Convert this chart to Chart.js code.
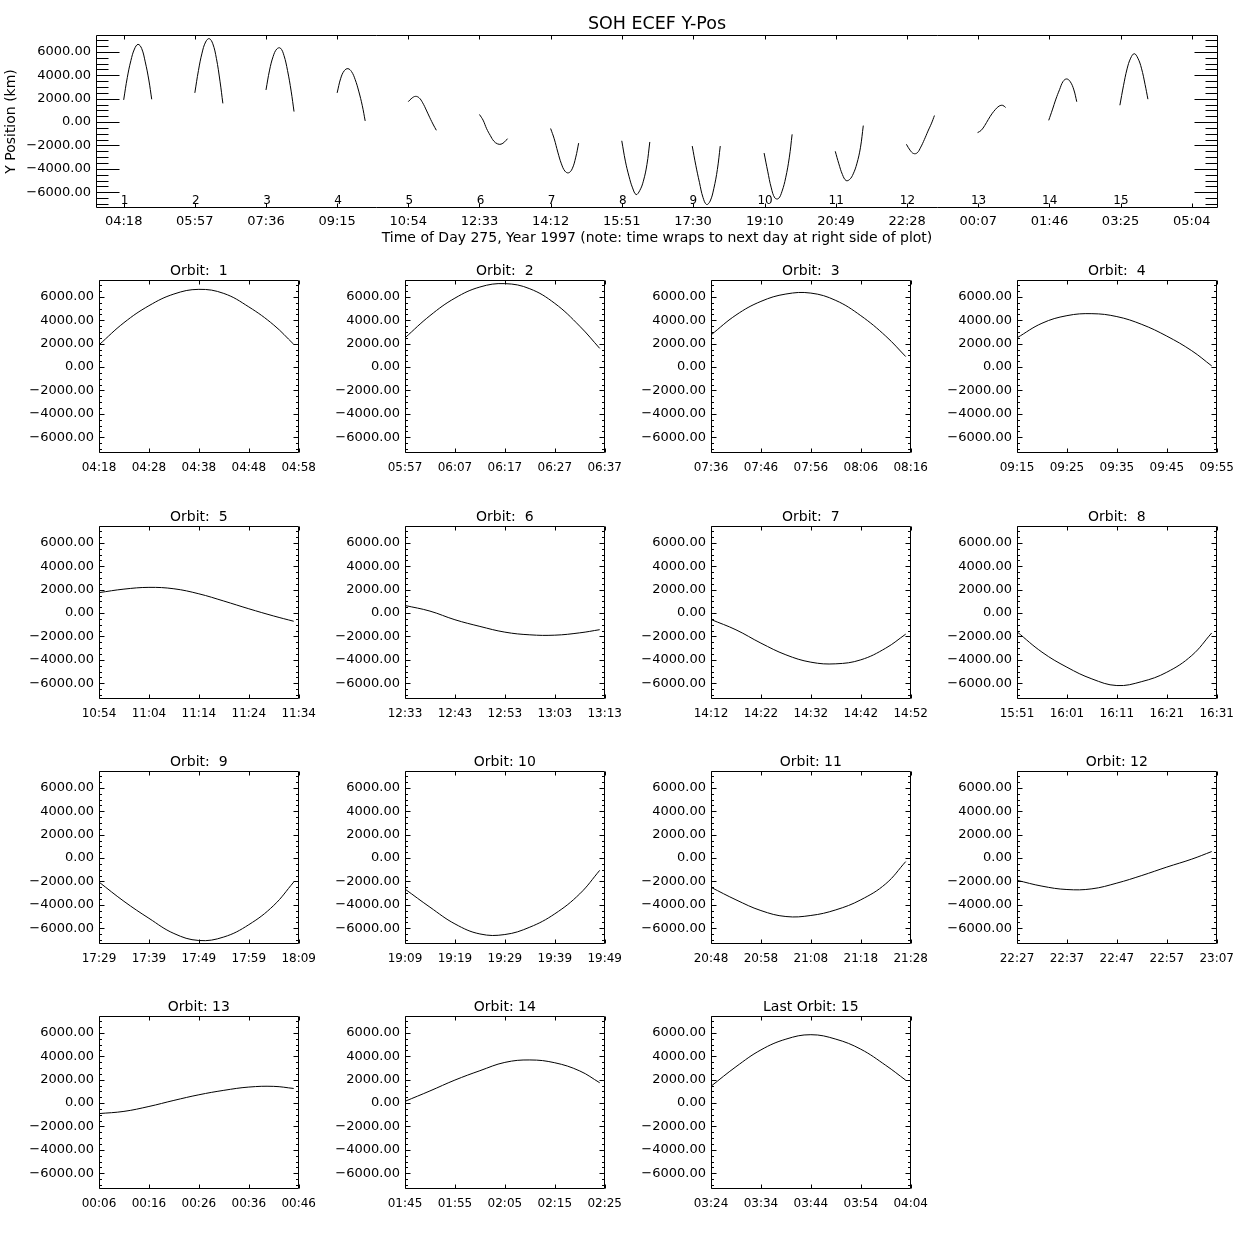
<!DOCTYPE html>
<html>
<head>
<meta charset="utf-8">
<title>SOH ECEF Y-Pos</title>
<script src="https://cdn.jsdelivr.net/npm/chart.js@4.4.1/dist/chart.umd.min.js"></script>
<style>
  body { margin: 0; background: #fff; }
  #page { position: relative; width: 1250px; height: 1250px; background: #fff; overflow: hidden; }
  #page canvas { position: absolute; }
</style>
</head>
<body>
<div id="page"></div>
<script>
// start of each orbit (left edge of the small plots)
const orbitStarts = ['04:18', '05:57', '07:36', '09:15', '10:54', '12:33', '14:12', '15:51',
                     '17:29', '19:09', '20:48', '22:27', '00:06', '01:45', '03:24'];
// tick labels of the overview plot
const overviewTicks = ['04:18', '05:57', '07:36', '09:15', '10:54', '12:33', '14:12', '15:51',
                       '17:30', '19:10', '20:49', '22:28', '00:07', '01:46', '03:25', '05:04'];
const sampleMinutes = [0, 5, 10, 15, 20, 25, 30, 35, 39];

// Y position (km)
const orbit1  = [1900, 3800, 5250, 6250, 6650, 6300, 5150, 3600, 1950];
const orbit2  = [2500, 4400, 5900, 6850, 7140, 6700, 5450, 3500, 1600];
const orbit3  = [2750, 4450, 5620, 6250, 6330, 5700, 4400, 2650, 900];
const orbit4  = [2500, 3750, 4400, 4570, 4320, 3650, 2650, 1400, 100];
const orbit5  = [1750, 2050, 2200, 2080, 1650, 1030, 370, -250, -700];
const orbit6  = [650, 170, -570, -1140, -1630, -1860, -1890, -1690, -1420];
const orbit7  = [-550, -1430, -2570, -3570, -4200, -4340, -4000, -3000, -1800];
const orbit8  = [-1600, -3340, -4630, -5630, -6200, -5860, -5060, -3630, -1700];
const orbit9  = [-2050, -3700, -5150, -6450, -7050, -6750, -5700, -4050, -2050];
const orbit10 = [-2650, -4200, -5630, -6490, -6540, -5910, -4770, -3060, -1050];
const orbit11 = [-2500, -3570, -4490, -5000, -4910, -4430, -3570, -2200, -300];
const orbit12 = [-1900, -2400, -2690, -2630, -2140, -1490, -770, -90, 560];
const orbit13 = [-900, -710, -290, 230, 710, 1090, 1370, 1430, 1250];
const orbit14 = [150, 1040, 1970, 2770, 3480, 3690, 3450, 2750, 1740];
const orbit15 = [1440, 3110, 4550, 5470, 5850, 5470, 4610, 3230, 1960];

const orbitValues = [orbit1, orbit2, orbit3, orbit4, orbit5, orbit6, orbit7, orbit8,
                     orbit9, orbit10, orbit11, orbit12, orbit13, orbit14, orbit15];

const yTickValues = [-6000, -4000, -2000, 0, 2000, 4000, 6000];
const panelTickSteps = [0, 10, 20, 30, 40];
const yMin = -7350, yMax = 7450;

Chart.defaults.font.family = '"DejaVu Sans", sans-serif';
Chart.defaults.color = '#000';

function toMinutes(labels) {
    let prev = -Infinity, shift = 0;
    return labels.map(s => {
        const [h, m] = s.split(':').map(Number);
        let v = h * 60 + m + shift;
        if (v < prev) { shift += 1440; v += 1440; }
        prev = v;
        return v;
    });
}

function hhmm(v) {
    const t = ((Math.round(v) % 1440) + 1440) % 1440;
    return String(Math.floor(t / 60)).padStart(2, '0') + ':' + String(t % 60).padStart(2, '0');
}

const startMinutes = toMinutes(orbitStarts);
const overviewTickMinutes = toMinutes(overviewTicks);

// IDL style box: frame plus inward ticks on all four sides
const idlFrame = {
    id: 'idlFrame',
    afterDatasetsDraw(chart, args, opts) {
        const { ctx, chartArea: a, scales } = chart;
        const L = Math.round(a.left) + 0.5, R = Math.round(a.right) - 0.5;
        const T = Math.round(a.top) + 0.5, B = Math.round(a.bottom) - 0.5;
        ctx.save();
        ctx.strokeStyle = '#000';
        ctx.lineWidth = 1;
        ctx.beginPath();
        ctx.rect(L, T, R - L, B - T);
        for (let v = -7000; v <= 7000; v += 500) {
            const py = Math.round(scales.y.getPixelForValue(v)) + 0.5;
            const len = v % 2000 === 0 ? opts.yMajor : opts.yMinor;
            ctx.moveTo(L, py); ctx.lineTo(L + len, py);
            ctx.moveTo(R, py); ctx.lineTo(R - len, py);
        }
        scales.x.ticks.forEach(t => {
            const px = Math.round(scales.x.getPixelForValue(t.value)) + 0.5;
            ctx.moveTo(px, B); ctx.lineTo(px, B - opts.xLen);
            ctx.moveTo(px, T); ctx.lineTo(px, T + opts.xLen);
        });
        ctx.stroke();

        if (opts.orbitLabels) {
            ctx.fillStyle = '#000';
            ctx.font = '12px "DejaVu Sans", sans-serif';
            ctx.textAlign = 'center';
            ctx.textBaseline = 'middle';
            opts.orbitLabels.forEach((m, i) => {
                ctx.fillText(String(i + 1), scales.x.getPixelForValue(m) + 1, a.bottom - 7);
            });
        }
        ctx.restore();
    }
};

const page = document.getElementById('page');
function addCanvas(left, top, w, h) {
    const c = document.createElement('canvas');
    c.width = w; c.height = h;
    c.style.left = left + 'px'; c.style.top = top + 'px';
    c.style.width = w + 'px'; c.style.height = h + 'px';
    page.appendChild(c);
    return c;
}

function yAxis(width, showTitle) {
    return {
        type: 'linear', min: yMin, max: yMax,
        afterBuildTicks: s => { s.ticks = yTickValues.map(v => ({ value: v })); },
        afterFit: s => { s.width = width; },
        grid: { display: false, drawTicks: false },
        border: { display: false },
        ticks: {
            callback: v => (v < 0 ? '\u2212' : '') + Math.abs(v).toFixed(2),
            font: { size: 13 }, padding: 5
        },
        title: { display: showTitle, text: 'Y Position (km)', font: { size: 14 }, padding: 0 }
    };
}

function rightPad(width) {
    return {
        type: 'linear', position: 'right', min: 0, max: 1,
        grid: { display: false, drawTicks: false }, border: { display: false },
        ticks: { display: false },
        afterFit: s => { s.width = width; }
    };
}

function lineSet(i) {
    return {
        data: orbitValues[i].map((v, k) => ({ x: startMinutes[i] + sampleMinutes[k], y: v })),
        borderColor: '#000', borderWidth: 1, pointRadius: 0, tension: 0.4, fill: false
    };
}

// overview plot
new Chart(addCanvas(0, 0, 1250, 247), {
    type: 'line',
    data: { datasets: orbitValues.map((_, i) => lineSet(i)) },
    options: {
        responsive: false, animation: false, devicePixelRatio: 1,
        layout: { padding: { left: 3, top: 0, right: 0, bottom: 0 } },
        scales: {
            x: {
                type: 'linear', min: 219.5, max: 1780.5,
                afterBuildTicks: s => { s.ticks = overviewTickMinutes.map(v => ({ value: v })); },
                afterFit: s => { s.height = 39; },
                grid: { display: false, drawTicks: false },
                border: { display: false },
                ticks: { callback: (v, i) => overviewTicks[i], font: { size: 13 }, padding: 6,
                         maxRotation: 0, autoSkip: false },
                title: { display: true,
                         text: 'Time of Day 275, Year 1997 (note: time wraps to next day at right side of plot)',
                         font: { size: 14 }, padding: 0 }
            },
            y: yAxis(93, true),
            yr: rightPad(32)
        },
        plugins: {
            legend: { display: false },
            tooltip: { enabled: false },
            title: { display: true, text: 'SOH ECEF Y-Pos', fullSize: false,
                     font: { size: 17.5, weight: 'normal' }, padding: { top: 14, bottom: 0 } },
            idlFrame: { yMajor: 23, yMinor: 12, xLen: 4, orbitLabels: startMinutes }
        }
    },
    plugins: [idlFrame]
});

// one small plot per orbit
const plotLefts = [99, 405, 711, 1017];
const plotTops = [280, 526, 771, 1016];
orbitValues.forEach((vals, i) => {
    const col = i % 4, row = Math.floor(i / 4);
    const start = startMinutes[i];
    const n = i + 1;
    const title = n === orbitValues.length ? 'Last Orbit: ' + n : 'Orbit: ' + String(n).padStart(2, ' ');
    new Chart(addCanvas(plotLefts[col] - 99, plotTops[row] - 30, 324, 225), {
        type: 'line',
        data: { datasets: [lineSet(i)] },
        options: {
            responsive: false, animation: false, devicePixelRatio: 1,
            layout: { padding: 0 },
            scales: {
                x: {
                    type: 'linear', min: start, max: start + 40,
                    afterBuildTicks: s => { s.ticks = panelTickSteps.map(d => ({ value: start + d })); },
                    afterFit: s => { s.height = 22; },
                    grid: { display: false, drawTicks: false },
                    border: { display: false },
                    ticks: { callback: v => hhmm(v), font: { size: 12 }, padding: 8,
                             maxRotation: 0, autoSkip: false }
                },
                y: yAxis(99, false),
                yr: rightPad(25)
            },
            plugins: {
                legend: { display: false },
                tooltip: { enabled: false },
                title: { display: true, text: title, fullSize: false,
                         font: { size: 14, weight: 'normal' }, padding: { top: 12.6, bottom: 0.6 } },
                idlFrame: { yMajor: 5, yMinor: 2.5, xLen: 4 }
            }
        },
        plugins: [idlFrame]
    });
});
</script>
</body>
</html>
